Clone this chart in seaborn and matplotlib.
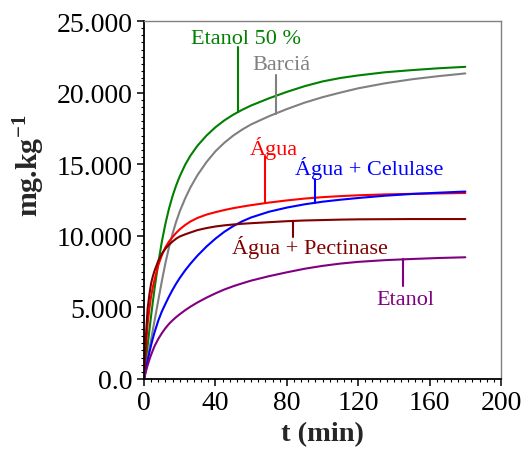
import numpy as np
import pandas as pd
import matplotlib
matplotlib.use("Agg")
import matplotlib.pyplot as plt
from matplotlib.ticker import MultipleLocator, FixedLocator, FixedFormatter
import seaborn as sns

# Extraction time (min)
t_min = [0, 1, 2, 3, 4, 5, 6, 8, 10, 12, 14, 16, 18, 20, 23, 26, 30, 35, 40,
         45, 50, 55, 60, 70, 80, 90, 100, 110, 120, 135, 150, 165, 180]

# Extracted amount (mg.kg-1) for each solvent / treatment
etanol50 = [0, 1150, 2300, 3400, 4450, 5450, 6400, 8100, 9600, 10850, 11900,
            12780, 13520, 14150, 14950, 15600, 16300, 17000, 17580, 18060,
            18460, 18800, 19100, 19600, 20050, 20450, 20780, 21020, 21200,
            21420, 21570, 21700, 21800]
barcia = [0, 700, 1400, 2100, 2780, 3460, 4140, 5500, 6850, 8100, 9200, 10150,
          10980, 11700, 12600, 13380, 14250, 15150, 15900, 16500, 17000, 17420,
          17780, 18350, 18850, 19300, 19680, 20000, 20300, 20650, 20930, 21150,
          21340]
agua = [0, 2000, 3800, 4900, 5800, 6450, 7000, 7950, 8650, 9200, 9600, 9920,
        10200, 10450, 10750, 11000, 11250, 11480, 11650, 11800, 11930, 12040,
        12140, 12320, 12470, 12600, 12700, 12770, 12830, 12890, 12930, 12960,
        12990]
agua_celulase = [0, 650, 1270, 1850, 2380, 2860, 3300, 4080, 4720, 5250, 5760,
                 6230, 6660, 7050, 7580, 8050, 8620, 9250, 9800, 10280, 10680,
                 11010, 11280, 11680, 11970, 12200, 12380, 12520, 12640, 12800,
                 12920, 13010, 13090]
agua_pectinase = [0, 2900, 4900, 5900, 6700, 7200, 7600, 8250, 8750, 9100,
                  9380, 9600, 9800, 9950, 10100, 10230, 10400, 10540, 10650,
                  10730, 10790, 10840, 10880, 10950, 11020, 11070, 11100,
                  11130, 11150, 11160, 11170, 11170, 11170]
etanol = [0, 500, 950, 1350, 1700, 2020, 2320, 2800, 3200, 3550, 3850, 4100,
          4320, 4520, 4800, 5050, 5350, 5680, 5980, 6250, 6480, 6680, 6870,
          7180, 7450, 7700, 7900, 8060, 8180, 8300, 8380, 8450, 8500]

series_names = ["Etanol 50 %", "Barciá", "Água", "Água + Celulase",
                "Água + Pectinase", "Etanol"]
series_values = [etanol50, barcia, agua, agua_celulase, agua_pectinase, etanol]
series_colors = ["#008000", "#808080", "#FF0000", "#0000FF", "#800000",
                 "#800080"]

x_ticks = [0, 40, 80, 120, 160, 200]
y_ticks = [0, 5000, 10000, 15000, 20000, 25000]
y_tick_labels = ["0.0", "5.000", "10.000", "15.000", "20.000", "25.000"]

sns.set_theme(style="ticks")
plt.rcParams["font.family"] = ["Liberation Serif", "DejaVu Serif"]
plt.rcParams["mathtext.fontset"] = "custom"
plt.rcParams["mathtext.rm"] = "Liberation Serif"
plt.rcParams["mathtext.bf"] = "Liberation Serif:bold"

fig = plt.figure(figsize=(5.22, 4.52), dpi=100)
ax = fig.add_axes([0.2759, 0.1593, 0.6839, 0.7920])

df = pd.DataFrame({"t": t_min})
for name, vals in zip(series_names, series_values):
    df[name] = vals
long = df.melt(id_vars="t", var_name="serie", value_name="valor")

sns.lineplot(data=long, x="t", y="valor", hue="serie",
             hue_order=series_names, palette=series_colors,
             linewidth=1.5, legend=False, ax=ax)

ax.set_xlim(0, 200)
ax.set_ylim(0, 25000)
ax.xaxis.set_major_locator(FixedLocator(x_ticks))
ax.xaxis.set_minor_locator(MultipleLocator(4))
ax.yaxis.set_major_locator(FixedLocator(y_ticks))
ax.yaxis.set_major_formatter(FixedFormatter(y_tick_labels))
ax.yaxis.set_minor_locator(MultipleLocator(500))

ax.tick_params(which="major", direction="out", length=5, width=1.1,
               labelsize=20, color="black", labelcolor="black", pad=3)
ax.tick_params(which="minor", direction="out", length=2.2, width=0.8,
               color="black")

for side in ("left", "bottom"):
    ax.spines[side].set_color("black")
    ax.spines[side].set_linewidth(1.3)
for side in ("top", "right"):
    ax.spines[side].set_visible(True)
    ax.spines[side].set_color("#808080")
    ax.spines[side].set_linewidth(1.0)

ax.set_xlabel("t (min)", fontsize=20.5, fontweight="bold", labelpad=4)
ax.set_ylabel(r"mg.kg$^{\mathbf{-1}}$", fontsize=21.5, fontweight="bold")
ax.yaxis.label.set_va("center")
ax.yaxis.set_label_coords(-0.322, 0.598)

# Curve labels with leader lines: (text x, text y, leader x, leader end y)
label_pos = {
    "Etanol 50 %": (26.5, 23810, 52.7, 23160),
    "Barciá": (60.5, 21930, 73.8, 21230),
    "Água": (59.4, 16200, 67.8, 15570),
    "Água + Celulase": (84.6, 14780, 95.8, 13970),
    "Água + Pectinase": (49.1, 9270, 83.6, 9920),
    "Etanol": (130.4, 5540, 145.3, 6520),
}
for name, vals, color in zip(series_names, series_values, series_colors):
    tx, ty, lx, ly = label_pos[name]
    ax.text(tx, ty, name, color=color, fontsize=16, ha="left", va="center")
    y_curve = np.interp(lx, t_min, vals)
    ax.plot([lx, lx], [ly, y_curve], color=color, linewidth=1.5)

fig.savefig("out.png", dpi=100)
